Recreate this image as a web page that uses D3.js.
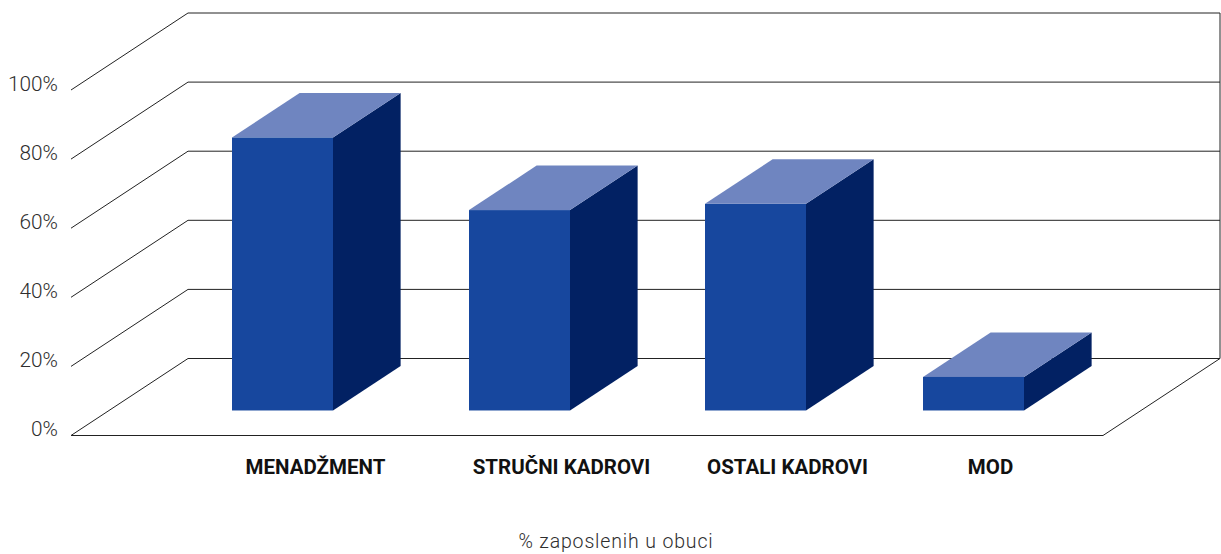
<!DOCTYPE html>
<html lang="en">
  <head>
    <meta charset="UTF-8" />
    <title>% zaposlenih u obuci</title>
    <style>
      body {
        margin: 0;
        background: #fff;
        overflow: hidden;
      }
      text {
        font-family: Roboto, sans-serif;
      }
      .grid {
        fill: none;
        stroke: #222;
        stroke-width: 1px;
      }
      .yaxis text {
        font-size: 20.8px;
        font-weight: 300;
        fill: #2e2e2e;
      }
      .xaxis text {
        font-size: 20.5px;
        font-weight: 700;
        fill: #111;
      }
      .title {
        font-size: 19.5px;
        font-weight: 300;
        fill: #2e2e2e;
        letter-spacing: 0.85px;
      }
    </style>
    <script src="https://unpkg.com/d3@7.8.1/dist/d3.min.js"></script>
  </head>
  <body>
    <script>
      const { select, scaleLinear, scaleOrdinal, axisLeft, axisBottom, line } = d3;

      // data
      const categories = ["MENADŽMENT", "STRUČNI KADROVI", "OSTALI KADROVI", "MOD"];
      const values = [79, 58, 59.8, 9.7];
      const yTicks = [0, 20, 40, 60, 80, 100];
      const xTitle = "% zaposlenih u obuci";

      // layout
      const width = 1221;
      const height = 554;
      const floorLeft = 71;
      const floorRight = 1103;
      const floorY = 435.5;
      const topY = 90;
      const wallDx = 117;
      const wallDy = -77;
      const barWidth = 101;
      const barStart = 0.325; // how far back the bars stand on the floor, 0 to 1
      const barDepth = 0.578;

      const y = scaleLinear().domain([0, 100]).range([floorY, topY]);
      // the bars are not evenly spaced in the picture
      const x = scaleOrdinal().domain(categories).range([232, 469, 705, 923]);
      const xLabel = scaleOrdinal().domain(categories).range([315, 561, 787, 990]);
      const depthX = scaleLinear().domain([0, 1]).range([0, wallDx]);
      const depthY = scaleLinear().domain([0, 1]).range([0, wallDy]);

      const svg = select("body")
        .append("svg")
        .attr("width", width)
        .attr("height", height);

      const path = line();

      // walls and floor
      const grid = svg.append("g").attr("class", "grid");
      yTicks.forEach((t) => {
        const backY = y(t) + wallDy;
        grid.append("path").attr("d", path([
          [floorLeft, y(t)],
          [floorLeft + wallDx, backY],
          [floorRight + wallDx, backY],
        ]));
      });
      grid.append("path").attr("d", path([
        [floorLeft, y(0)],
        [floorRight, y(0)],
        [floorRight + wallDx, y(0) + wallDy],
        [floorRight + wallDx, y(100) + wallDy],
      ]));

      // bars
      const bars = svg.selectAll(".bar")
        .data(categories.map((c, i) => ({ c, v: values[i] })))
        .enter()
        .append("g")
        .attr("class", "bar");

      const baseY = floorY + depthY(barStart);
      const barH = (d) => floorY - y(d.v);
      const dx = depthX(barDepth);
      const dy = depthY(barDepth);

      // side
      bars.append("path")
        .attr("fill", "#022163")
        .attr("d", (d) => {
          const r = x(d.c) + barWidth;
          const t = baseY - barH(d);
          return path([[r, baseY], [r + dx, baseY + dy], [r + dx, t + dy], [r, t]]) + "Z";
        });

      // top
      bars.append("path")
        .attr("fill", "#6f85c0")
        .attr("d", (d) => {
          const l = x(d.c);
          const t = baseY - barH(d);
          return path([[l, t], [l + dx, t + dy], [l + barWidth + dx, t + dy], [l + barWidth, t]]) + "Z";
        });

      // front
      bars.append("rect")
        .attr("fill", "#17479e")
        .attr("x", (d) => x(d.c))
        .attr("y", (d) => baseY - barH(d))
        .attr("width", barWidth)
        .attr("height", barH);

      // axes
      svg.append("g")
        .attr("class", "yaxis")
        .attr("transform", "translate(58, -6.5)")
        .call(axisLeft(y).tickValues(yTicks).tickFormat((d) => d + "%").tickSize(0).tickPadding(0))
        .call((g) => g.select(".domain").remove());

      svg.append("g")
        .attr("class", "xaxis")
        .attr("transform", "translate(0, 459)")
        .call(axisBottom(xLabel).tickSize(0).tickPadding(0))
        .call((g) => g.select(".domain").remove());

      svg.append("text")
        .attr("class", "title")
        .attr("x", 616)
        .attr("y", 548)
        .attr("text-anchor", "middle")
        .text(xTitle);
    </script>
  </body>
</html>
